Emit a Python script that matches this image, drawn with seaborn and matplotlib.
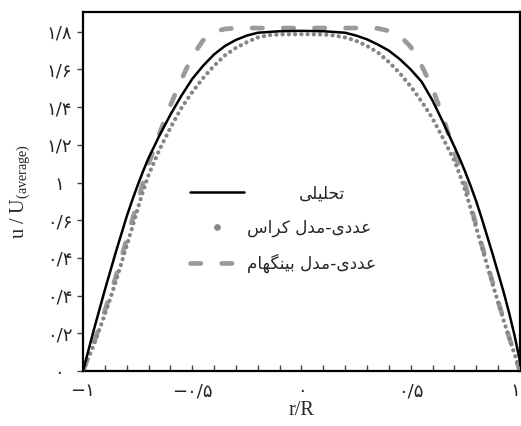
import matplotlib
matplotlib.use("Agg")
import matplotlib.pyplot as plt
from matplotlib.lines import Line2D
import seaborn as sns

# ---------------- data ----------------
r_analytic = [-1.0, -0.975, -0.95, -0.925, -0.9, -0.875, -0.85, -0.825, -0.8, -0.775,
              -0.75, -0.725, -0.7, -0.65, -0.6, -0.55, -0.5, -0.45, -0.4, -0.35,
              -0.3, -0.25, -0.2, -0.1, 0.0, 0.1, 0.2, 0.25, 0.3, 0.35,
              0.4, 0.45, 0.5, 0.55, 0.6, 0.65, 0.7, 0.725, 0.75, 0.775,
              0.8, 0.825, 0.85, 0.875, 0.9, 0.925, 0.95, 0.975, 1.0]
u_analytic = [0.0, 0.11, 0.22, 0.325, 0.43, 0.53, 0.63, 0.725, 0.82, 0.905,
              0.985, 1.06, 1.13, 1.25, 1.36, 1.46, 1.55, 1.62, 1.68, 1.725,
              1.757, 1.78, 1.795, 1.803, 1.805, 1.803, 1.795, 1.78, 1.76, 1.732,
              1.70, 1.655, 1.60, 1.535, 1.435, 1.315, 1.19, 1.125, 1.055, 0.98,
              0.90, 0.81, 0.715, 0.62, 0.52, 0.42, 0.31, 0.19, 0.05]

r_cross = [-1.0, -0.975, -0.95, -0.925, -0.9, -0.875, -0.85, -0.825, -0.8, -0.775,
           -0.75, -0.725, -0.7, -0.65, -0.6, -0.55, -0.5, -0.45, -0.4, -0.35,
           -0.3, -0.25, -0.2, -0.15, -0.1, 0.0, 0.1, 0.15, 0.2, 0.25,
           0.3, 0.35, 0.4, 0.45, 0.5, 0.55, 0.6, 0.65, 0.7, 0.725,
           0.75, 0.775, 0.8, 0.825, 0.85, 0.875, 0.9, 0.925, 0.95, 0.975, 1.0]
u_cross = [0.0, 0.07, 0.14, 0.22, 0.30, 0.385, 0.475, 0.57, 0.665, 0.76,
           0.86, 0.955, 1.04, 1.175, 1.29, 1.395, 1.48, 1.555, 1.62, 1.675,
           1.715, 1.745, 1.77, 1.782, 1.786, 1.787, 1.786, 1.78, 1.77, 1.752,
           1.725, 1.69, 1.64, 1.58, 1.51, 1.43, 1.34, 1.23, 1.115, 1.04,
           0.955, 0.86, 0.76, 0.66, 0.56, 0.46, 0.365, 0.27, 0.18, 0.09, 0.0]

r_bingham = [-1.0, -0.95, -0.9, -0.85, -0.8, -0.75, -0.7, -0.65, -0.6, -0.55,
             -0.5, -0.45, -0.4, -0.35, -0.3, 0.0, 0.3, 0.35, 0.4, 0.45,
             0.5, 0.55, 0.6, 0.65, 0.7, 0.75, 0.8, 0.85, 0.9, 0.95, 1.0]
u_bingham = [0.0, 0.15, 0.32, 0.50, 0.70, 0.90, 1.10, 1.26, 1.41, 1.545,
             1.67, 1.755, 1.80, 1.815, 1.82, 1.82, 1.82, 1.818, 1.805, 1.78,
             1.72, 1.62, 1.50, 1.34, 1.16, 0.99, 0.77, 0.57, 0.37, 0.18, 0.0]

x_ticks = [-1.0, -0.5, 0.0, 0.5, 1.0]
x_tick_labels = ["\u2212\u06F1", "\u2212\u06F0/\u06F5", "\u06F0", "\u06F0/\u06F5", "\u06F1"]
y_ticks = [0.0, 0.2, 0.4, 0.6, 0.8, 1.0, 1.2, 1.4, 1.6, 1.8]
y_tick_labels = ["\u06F0", "\u06F0/\u06F2", "\u06F0/\u06F4", "\u06F0/\u06F4", "\u06F0/\u06F6",
                 "\u06F1", "\u06F1/\u06F2", "\u06F1/\u06F4", "\u06F1/\u06F6", "\u06F1/\u06F8"]

# Persian legend labels (pre-shaped presentation forms, visual order)
label_analytic = "\uFEF0\uFEE0\uFEF4\uFEE0\uFEA4\uFE97"                       # تحلیلی
label_cross = ("\uFEB1\uFE8D\uFEAE\uFEDB \uFEDD\uFEAA\uFEE3-"
               "\uFEEF\uFEA9\uFEAA\uFECB")                                  # عددی-مدل کراس
label_bingham = ("\uFEE1\uFE8E\uFEEC\uFB95\uFEE8\uFEF4\uFE91 \uFEDD\uFEAA\uFEE3-"
                 "\uFEEF\uFEA9\uFEAA\uFECB")                                # عددی-مدل بینگهام

# ---------------- style ----------------
sns.set_style("white")
plt.rcParams["font.family"] = ["DejaVu Sans"]
plt.rcParams["mathtext.fontset"] = "custom"
plt.rcParams["mathtext.rm"] = "Liberation Serif"
plt.rcParams["mathtext.it"] = "Liberation Serif:italic"

fig = plt.figure(figsize=(5.21, 4.26), dpi=100)
ax = fig.add_axes([0.1593, 0.1291, 0.8387, 0.8427])

c_dash = "#9b9b9b"
c_dot = "#858585"

sns.lineplot(x=r_bingham, y=u_bingham, ax=ax, color=c_dash, linewidth=3.4,
             linestyle=(0, (2.2, 4.4)), dash_capstyle="round", sort=False, zorder=2)
sns.lineplot(x=r_cross, y=u_cross, ax=ax, color=c_dot, linewidth=3.0,
             linestyle=(0, (0.05, 1.45)), dash_capstyle="round", sort=False, zorder=3)
sns.lineplot(x=r_analytic, y=u_analytic, ax=ax, color="black", linewidth=1.8,
             sort=False, zorder=4)

ax.set_xlim(-1, 1)
ax.set_ylim(0, 1.905)

ax.set_xticks(x_ticks, labels=x_tick_labels)
ax.set_xticks([i / 10 for i in range(-10, 11)], minor=True)
ax.set_yticks(y_ticks, labels=y_tick_labels)

ax.tick_params(axis="x", which="both", direction="in", length=4, width=1,
               color="#444444", labelsize=13, pad=8, bottom=True, top=False)
ax.tick_params(axis="y", which="major", direction="out", length=4, width=1,
               color="#444444", labelsize=13, pad=13, left=True, right=False)
for t in ax.get_yticklabels():
    t.set_ha("center")
ax.get_xticklabels()[-1].set_ha("right")

for s in ax.spines.values():
    s.set_visible(True)
    s.set_color("black")
    s.set_linewidth(1.6)

ax.set_xlabel("r/R", fontsize=14.5, family="Liberation Serif")
ax.xaxis.set_label_coords(0.5, -0.083)
ax.set_ylabel("u / U$_{\\mathrm{(average)}}$", fontsize=14.5, family="Liberation Serif")
ax.yaxis.set_label_coords(-0.117, 0.5)

handles = [
    Line2D([], [], color="black", linewidth=1.8),
    Line2D([], [], color=c_dot, marker="o", markersize=3.8, linestyle="none"),
    Line2D([], [], color=c_dash, linewidth=3.4, linestyle=(0, (2.2, 4.4)),
           dash_capstyle="round"),
]
leg = ax.legend(handles, [label_analytic, label_cross, label_bingham],
                loc="upper left", bbox_to_anchor=(0.245, 0.52), frameon=False,
                fontsize=12.2, handlelength=3.2, handletextpad=0.15,
                labelspacing=0.98, borderpad=0, borderaxespad=0)
# first label sits further right in the reference
leg.get_texts()[0].set_x(52)

fig.savefig("out.png", dpi=100)
